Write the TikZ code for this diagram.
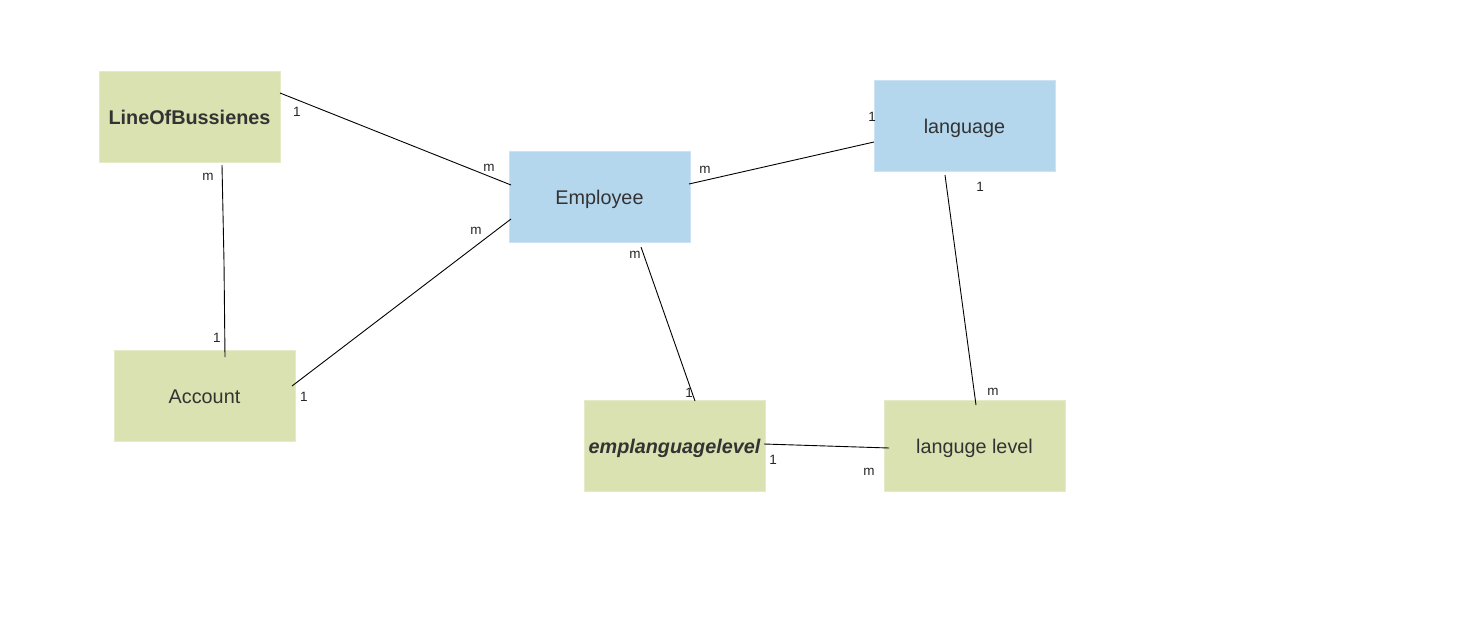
\documentclass[tikz,border=0pt]{standalone}
\usepackage{fontspec}
\setmainfont{Liberation Sans}
\definecolor{boxgreen}{RGB}{217,226,176}
\definecolor{boxblue}{RGB}{180,215,237}
\definecolor{txt}{RGB}{51,51,51}
\begin{document}
\begin{tikzpicture}[x=1pt,y=-1pt,
  entity/.style={minimum width=181pt,minimum height=91pt,inner sep=0pt,text=txt,text height=17pt,text depth=2pt,font=\fontsize{19.8}{22}\selectfont},
  greenbox/.style={entity,fill=boxgreen,draw=boxgreen!70!white,line width=0.8pt},
  bluebox/.style={entity,fill=boxblue,draw=boxblue!70!white,line width=0.8pt},
  conn/.style={draw=black,line width=0.9pt},
  card/.style={font=\fontsize{13.5}{14}\selectfont,text=black!85,inner sep=0pt}]
\useasboundingbox (0,0) rectangle (1481,637);
% entities
\node[greenbox] (lob) at (189.5,116.5) {\bfseries LineOfBussienes};
\node[bluebox] (emp) at (599.5,196.5) {Employee};
\node[bluebox] (lang) at (964.5,125.5) {language};
\node[greenbox] (acc) at (204.5,395.5) {Account};
\node[greenbox] (ell) at (674.5,445.5) {\bfseries\itshape emplanguagelevel};
\node[greenbox] (ll) at (974.5,445.5) {languge level};
% connector endpoints
\coordinate (lobR) at (280,93);
\coordinate (empL1) at (511,185);
\coordinate (lobB) at (222,165);
\coordinate (lobBend) at (224,262);
\coordinate (accT) at (225,357);
\coordinate (accR) at (292,386);
\coordinate (empL2) at (511,219);
\coordinate (empR) at (689,184);
\coordinate (langL) at (874,142);
\coordinate (empB) at (641,247);
\coordinate (ellT) at (695,401);
\coordinate (langB) at (945,175);
\coordinate (llT) at (976,405);
\coordinate (ellR) at (764,444);
\coordinate (llL) at (889,448);
% connectors
\draw[conn] (lobR) -- (empL1);
\draw[conn] (lobB) -- (lobBend) -- (accT);
\draw[conn] (accR) -- (empL2);
\draw[conn] (empR) -- (langL);
\draw[conn] (empB) -- (ellT);
\draw[conn] (langB) -- (llT);
\draw[conn] (ellR) -- (llL);
% cardinalities
\node[card] (c1) at (297,111.5) {1};
\node[card] (c2) at (489,167.5) {m};
\node[card] (c3) at (208,176.5) {m};
\node[card] (c4) at (217,337.5) {1};
\node[card] (c5) at (304,396.5) {1};
\node[card] (c6) at (476,230.5) {m};
\node[card] (c7) at (705,169.5) {m};
\node[card] (c8) at (872,116.5) {1};
\node[card] (c9) at (635,254.5) {m};
\node[card] (c10) at (689,392.5) {1};
\node[card] (c11) at (980,186.5) {1};
\node[card] (c12) at (993,391.5) {m};
\node[card] (c13) at (773,459.5) {1};
\node[card] (c14) at (869,471.5) {m};
\end{tikzpicture}
\end{document}
